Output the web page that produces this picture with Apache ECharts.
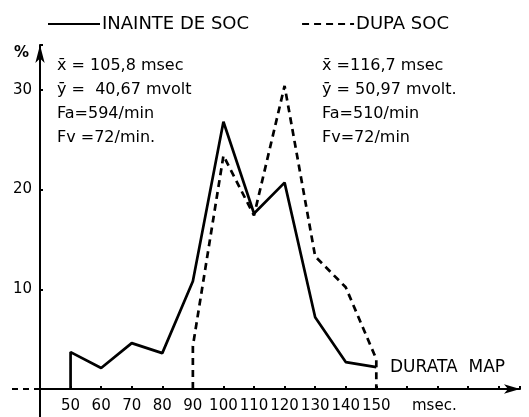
<!DOCTYPE html>
<html>
<head>
<meta charset="utf-8">
<script src="https://cdn.jsdelivr.net/npm/echarts@6/dist/echarts.min.js"></script>
<style>
html, body { margin: 0; padding: 0; background: #fff; }
#chart { width: 529px; height: 417px; }
</style>
</head>
<body>
<div id="chart"></div>
<script>
// durata (msec) si procente
var xTicks = [50, 60, 70, 80, 90, 100, 110, 120, 130, 140, 150];
var inainteX = [50, 50, 60, 70, 80, 90, 100, 110, 120, 130, 140, 150];
var inainteY = [0, 3.7, 2.1, 4.6, 3.6, 10.8, 26.8, 17.6, 20.7, 7.2, 2.7, 2.2];
var dupaX = [90, 90, 100, 110, 120, 130, 140, 150, 150];
var dupaY = [0, 4.3, 23.4, 17.4, 30.4, 13.3, 10.2, 3.0, 0];
var yTicks = [10, 20, 30];

var serieInainte = 'INAINTE DE SOC';
var serieDupa = 'DUPA SOC';
var font = 'DejaVu Sans';

function pairs(xs, ys) {
	var out = [];
	for (var i = 0; i < xs.length; i++) out.push([xs[i], ys[i]]);
	return out;
}

var chart = echarts.init(document.getElementById('chart'));
var option = {
	animation: false,
	backgroundColor: '#fff',
	textStyle: { fontFamily: font, color: '#000' },
	grid: { left: 40, right: 9, top: 45, bottom: 28 },
	legend: {
		top: 10,
		left: 42,
		itemWidth: 52,
		itemHeight: 12,
		itemGap: 52,
		itemStyle: { opacity: 0 },
		textStyle: { fontFamily: font, fontSize: 18, color: '#000', padding: [0, 0, 0, -3] },
		data: [serieInainte, serieDupa]
	},
	xAxis: {
		type: 'value',
		min: 40,
		max: 197,
		interval: 10,
		splitLine: { show: false },
		axisLine: { lineStyle: { color: '#000', width: 2 }, symbol: ['none', 'arrow'], symbolSize: [7, 16] },
		axisTick: { show: true, length: 3, inside: true, lineStyle: { color: '#000', width: 2 } },
		axisLabel: {
			fontSize: 15,
			color: '#000',
			margin: 10,
			fontFamily: font,
			formatter: function (v) { return xTicks.indexOf(v) >= 0 ? String(v) : ''; }
		}
	},
	yAxis: {
		type: 'value',
		min: 0,
		max: 34.5,
		interval: 10,
		splitLine: { show: false },
		axisLine: { lineStyle: { color: '#000', width: 2 }, symbol: ['none', 'arrow'], symbolSize: [7, 18] },
		axisTick: { show: true, length: 3, inside: true, lineStyle: { color: '#000', width: 2 } },
		axisLabel: {
			fontSize: 15,
			color: '#000',
			margin: 8,
			fontFamily: font,
			formatter: function (v) { return yTicks.indexOf(v) >= 0 ? String(v) : ''; }
		}
	},
	series: [{
		name: serieInainte,
		type: 'line',
		symbol: 'none',
		data: pairs(inainteX, inainteY),
		lineStyle: { color: '#000', width: 2.7, type: 'solid' },
		itemStyle: { color: '#000' }
	}, {
		name: serieDupa,
		type: 'line',
		symbol: 'none',
		data: pairs(dupaX, dupaY),
		lineStyle: { color: '#000', width: 2.7, type: [7, 5] },
		itemStyle: { color: '#000' }
	}],
	graphic: [
		{ type: 'line', shape: { x1: 40, y1: 389, x2: 40, y2: 417 }, style: { stroke: '#000', lineWidth: 2 } },
		{ type: 'line', shape: { x1: 12, y1: 389, x2: 40, y2: 389 }, style: { stroke: '#000', lineWidth: 2, lineDash: [6, 5] } },
		{ type: 'text', left: 14, top: 46, style: { text: '%', font: 'bold 15px ' + font, fill: '#000' } },
		{ type: 'text', left: 57, top: 54, style: { text: 'x\u0304 = 105,8 msec\ny\u0304 =  40,67 mvolt\nFa=594/min\nFv =72/min.', font: '16px ' + font, fill: '#000', lineHeight: 24 } },
		{ type: 'text', left: 322, top: 54, style: { text: 'x\u0304 =116,7 msec\ny\u0304 = 50,97 mvolt.\nFa=510/min\nFv=72/min', font: '16px ' + font, fill: '#000', lineHeight: 24 } },
		{ type: 'text', left: 390, top: 359, style: { text: 'DURATA  MAP', font: '17px ' + font, fill: '#000' } },
		{ type: 'text', left: 412, top: 399, style: { text: 'msec.', font: '15px ' + font, fill: '#000' } }
	]
};
chart.setOption(option);
window.addEventListener('resize', chart.resize);
</script>
</body>
</html>
